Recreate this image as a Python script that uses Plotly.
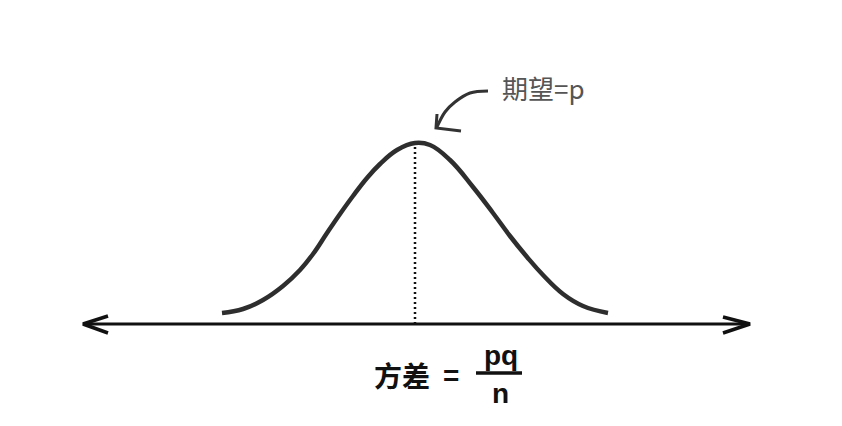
import plotly.graph_objects as go

# Bell curve (x position, height above the axis)
curve_x = [222, 243, 263, 283, 300, 313, 327, 340, 353, 367, 380, 397, 415,
           430, 450, 473, 493, 510, 527, 543, 563, 583, 608]
curve_h = [11, 15, 24, 38, 54, 70, 91, 110, 128, 146, 160, 174, 181,
           179, 164, 137, 111, 88, 67, 49, 30, 18, 11]

mean_x = 415
peak_h = 181
axis_left = 83
axis_right = 750

# Curved pointer arrow of the "期望=p" note
note_arrow_x = [488, 470, 455, 445, 437]
note_arrow_h = [233, 231, 222, 212, 197]
note_head_x = [437, 436, 461]
note_head_h = [210, 196, 193]

note_text = "期望=p"
var_label = "方差"
var_num = "pq"
var_den = "n"

ink = "#2e2e2e"
fig = go.Figure()

# horizontal axis with open arrow heads
fig.add_trace(go.Scatter(x=[axis_left, axis_right], y=[0, 0], mode="lines",
                         line=dict(color="#111", width=3), hoverinfo="skip"))
fig.add_trace(go.Scatter(x=[axis_left + 25, axis_left, axis_left + 25], y=[8, 0, -9], mode="lines",
                         line=dict(color="#111", width=3.5), hoverinfo="skip"))
fig.add_trace(go.Scatter(x=[axis_right - 27, axis_right, axis_right - 27], y=[7, 0, -9], mode="lines",
                         line=dict(color="#111", width=3.5), hoverinfo="skip"))

# dotted mean line
fig.add_trace(go.Scatter(x=[mean_x, mean_x], y=[0, peak_h], mode="lines",
                         line=dict(color="#111", width=2.5, dash="2px,3px"), hoverinfo="skip"))

# bell curve
fig.add_trace(go.Scatter(x=curve_x, y=curve_h, mode="lines", line_shape="spline",
                         line=dict(color=ink, width=4.5, smoothing=1.2), hoverinfo="skip"))

# pointer arrow
fig.add_trace(go.Scatter(x=note_arrow_x, y=note_arrow_h, mode="lines", line_shape="spline",
                         line=dict(color="#333", width=3), hoverinfo="skip"))
fig.add_trace(go.Scatter(x=note_head_x, y=note_head_h, mode="lines",
                         line=dict(color="#333", width=3), hoverinfo="skip"))

# fraction bar
fig.add_trace(go.Scatter(x=[476, 522], y=[-49, -49], mode="lines",
                         line=dict(color="#111", width=3.5), hoverinfo="skip"))

cjk = "Noto Sans CJK SC"
fig.add_annotation(x=500, y=237, text=note_text, showarrow=False, xanchor="left", yanchor="middle",
                   font=dict(family=cjk, size=26, color="#555"))
fig.add_annotation(x=402, y=-51, text="<b>" + var_label + "</b>", showarrow=False,
                   font=dict(family=cjk, size=28, color="#111"))
fig.add_annotation(x=451, y=-51, text="<b>=</b>", showarrow=False,
                   font=dict(family="Liberation Sans", size=28, color="#111"))
fig.add_annotation(x=501, y=-31, text="<b>" + var_num + "</b>", showarrow=False,
                   font=dict(family="Liberation Sans", size=28, color="#111"))
fig.add_annotation(x=500, y=-69, text="<b>" + var_den + "</b>", showarrow=False,
                   font=dict(family="Liberation Sans", size=28, color="#111"))

# the page body adds an 8px offset; shift the ranges to compensate
fig.update_layout(
    width=842, height=426,
    margin=dict(l=0, r=0, t=0, b=0),
    paper_bgcolor="white", plot_bgcolor="white",
    showlegend=False,
    xaxis=dict(range=[8, 850], visible=False, fixedrange=True),
    yaxis=dict(range=[-110, 316], visible=False, fixedrange=True),
)

fig.write_html("out.html")
